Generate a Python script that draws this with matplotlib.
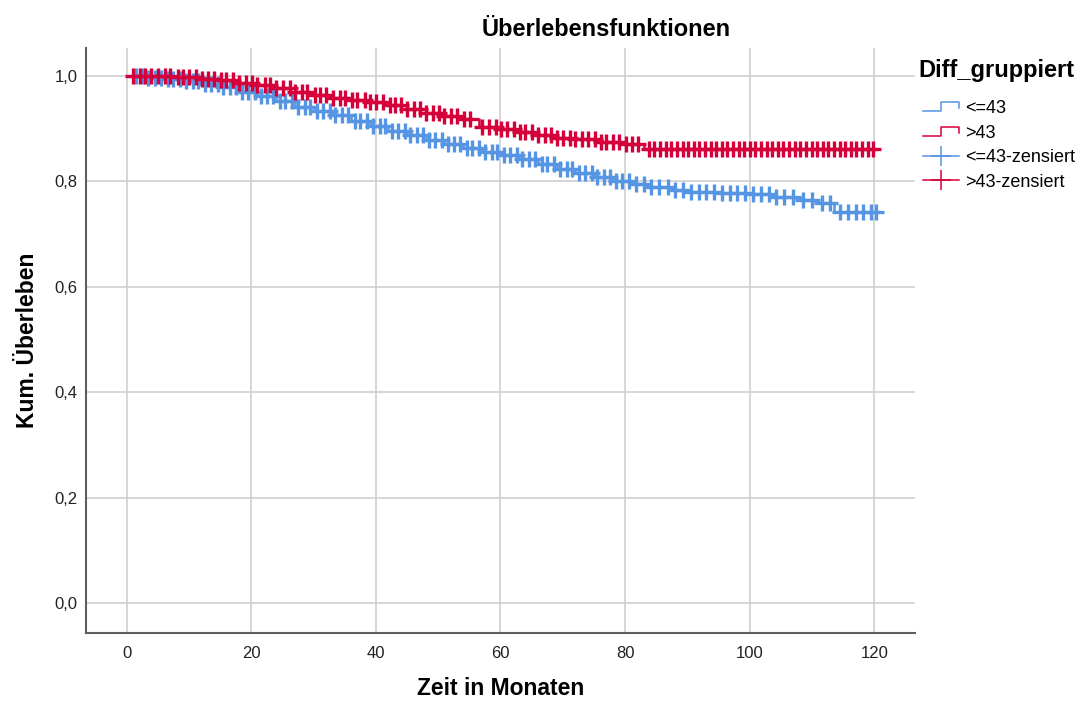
import numpy as np
import matplotlib
matplotlib.use("Agg")
import matplotlib.pyplot as plt
from matplotlib.lines import Line2D
from matplotlib.legend_handler import HandlerBase

plt.rcParams['font.family'] = ['Liberation Sans', 'DejaVu Sans']

# Kaplan-Meier Stufen (Zeit in Monaten, kum. Ueberleben)
zeit_le43 = [0, 3, 6, 9, 12, 15, 18, 21, 24, 27, 30, 33, 36, 39, 42, 45, 48, 51, 54,
             57, 60, 63, 66, 69, 72, 75, 78, 81, 84, 87, 90, 95, 100, 104, 108, 111, 113.5]
surv_le43 = [1.0, 0.997, 0.994, 0.990, 0.985, 0.979, 0.970, 0.961, 0.952, 0.942, 0.933,
             0.925, 0.915, 0.905, 0.896, 0.887, 0.878, 0.870, 0.863, 0.856, 0.850, 0.842,
             0.832, 0.823, 0.816, 0.808, 0.800, 0.795, 0.789, 0.783, 0.780, 0.778, 0.776,
             0.771, 0.765, 0.759, 0.742]

zeit_gt43 = [0, 8, 12, 15, 18, 21, 24, 27, 30, 33, 36, 39, 42, 45, 48, 51, 54, 56.5,
             60, 63, 66, 69, 72, 76, 80, 83]
surv_gt43 = [1.0, 0.998, 0.995, 0.992, 0.987, 0.982, 0.977, 0.970, 0.964, 0.959, 0.955,
             0.950, 0.944, 0.937, 0.930, 0.924, 0.919, 0.904, 0.899, 0.893, 0.888, 0.883,
             0.880, 0.875, 0.871, 0.862]

# zensierte Faelle
zens_le43 = [1.5, 2.6, 3.5, 4.6, 5.5, 6.6, 7.5, 8.6, 9.5, 10.6, 11.5, 12.6, 13.5, 14.6,
             15.5, 16.6, 17.5, 18.6, 19.5, 20.6, 21.5, 22.6, 23.5, 24.6, 25.5, 26.6, 27.5,
             28.6, 29.5, 30.6, 31.5, 32.6, 33.5, 34.6, 35.5, 36.6, 37.5, 38.6, 39.5, 40.6,
             41.5, 42.6, 43.5, 44.6, 45.5, 46.6, 47.5, 48.6, 49.5, 50.6, 51.5, 52.6, 53.5,
             54.6, 55.5, 56.6, 57.5, 58.6, 59.5, 60.6, 61.5, 62.6, 63.5, 64.6, 65.5, 66.6,
             67.5, 68.6, 69.5, 70.6, 71.5, 72.6, 73.5, 74.6, 75.5, 76.6, 77.5, 78.6, 79.5,
             80.6, 81.7, 83.0, 84.2, 85.5, 86.8, 88.0, 89.2, 90.5, 91.8, 93.0, 94.2, 95.5,
             96.8, 98.0, 99.2, 100.5, 101.8, 103.0, 104.2, 105.5, 107.0, 108.5, 110.0,
             111.5, 112.8, 114.5, 115.8, 117.0, 118.2, 119.5, 120.3]
zens_gt43 = [1.0, 2.1, 3.0, 3.9, 5.0, 6.1, 7.0, 8.2, 9.1, 10.0, 11.2, 12.1, 13.0, 14.1,
             15.2, 16.0, 17.1, 18.0, 19.2, 20.1, 21.0, 22.2, 23.1, 24.0, 25.1, 26.2, 27.0,
             28.1, 29.0, 30.2, 31.1, 32.0, 33.1, 34.2, 35.0, 36.1, 37.0, 38.2, 39.1, 40.0,
             41.1, 42.2, 43.0, 44.1, 45.0, 46.2, 47.1, 48.0, 49.1, 50.2, 51.0, 52.1, 53.0,
             54.2, 55.1, 57.0, 58.1, 59.2, 60.1, 61.0, 62.2, 63.1, 64.0, 65.1, 66.0, 67.2,
             68.1, 69.0, 70.1, 71.2, 72.0, 73.1, 74.0, 75.2, 76.1, 77.0, 78.1, 79.0, 80.2,
             81.1, 82.0, 83.8, 84.7, 85.6, 86.5, 87.4, 88.3, 89.2, 90.1, 91.0, 91.9, 92.8,
             93.7, 94.6, 95.5, 96.4, 97.3, 98.2, 99.1, 100.0, 100.9, 101.8, 102.7, 103.6,
             104.5, 105.4, 106.3, 107.2, 108.1, 109.0, 109.9, 110.8, 111.7, 112.6, 113.5,
             114.4, 115.3, 116.2, 117.1, 118.0, 118.9, 119.8]

labels = ['<=43', '>43', '<=43-zensiert', '>43-zensiert']
blau = '#5595E3'
rot = '#D5003B'
t_max = 120.3


def stufe(zeit, surv, t):
    # Ueberleben zum Zeitpunkt t (rechtsstetige Treppenfunktion)
    idx = np.searchsorted(zeit, t, side='right') - 1
    return np.asarray(surv)[idx]


class StufenHandler(HandlerBase):
    def create_artists(self, legend, orig_handle, xdescent, ydescent, width, height,
                       fontsize, trans):
        x0, y0 = -xdescent, -ydescent
        lo = y0 + 0.15 * height
        hi = y0 + 0.85 * height
        xs = [x0, x0 + 0.5 * width, x0 + 0.5 * width, x0 + width, x0 + width]
        ys = [lo, lo, hi, hi, lo + 0.25 * height]
        l = Line2D(xs, ys, color=orig_handle.get_color(), lw=1.1, transform=trans)
        return [l]


fig = plt.figure(figsize=(10.83, 7.02), dpi=100)
ax = fig.add_axes([86 / 1083, 1 - 633 / 702, (915 - 86) / 1083, (633 - 48) / 702])

for zeit, surv, zens, col in [(zeit_le43, surv_le43, zens_le43, blau),
                              (zeit_gt43, surv_gt43, zens_gt43, rot)]:
    xs = list(zeit) + [t_max]
    ys = list(surv) + [surv[-1]]
    ax.plot(xs, ys, drawstyle='steps-post', color=col, lw=1.8, zorder=3)
    zy = stufe(zeit, surv, np.array(zens))
    ax.plot(zens, zy, ls='none', marker='+', ms=11, mew=2.4, color=col, zorder=3)

ax.set_xlim(-6.5, 126.5)
ax.set_ylim(-0.057, 1.053)
ax.set_xticks([0, 20, 40, 60, 80, 100, 120])
yt = [0.0, 0.2, 0.4, 0.6, 0.8, 1.0]
ax.set_yticks(yt)
ax.set_yticklabels([f'{v:.1f}'.replace('.', ',') for v in yt])
ax.tick_params(length=0, labelsize=12, colors='#222222')
ax.tick_params(axis='x', pad=9)
ax.tick_params(axis='y', pad=6)
ax.grid(True, color='#CFCFCF', lw=1.2, zorder=0)
ax.set_axisbelow(True)
for s in ['top', 'right']:
    ax.spines[s].set_visible(False)
for s in ['left', 'bottom']:
    ax.spines[s].set_color('#5E5E5E')
    ax.spines[s].set_linewidth(1.5)

ax.set_xlabel('Zeit in Monaten', fontsize=16.5, fontweight='bold', labelpad=12)
ax.set_ylabel('Kum. Überleben', fontsize=16.5, fontweight='bold', labelpad=11)
fig.text(606 / 1083, 1 - 30 / 702, 'Überlebensfunktionen', ha='center', va='center',
         fontsize=17, fontweight='bold')

# Legende: Titel separat, darunter die vier Eintraege
fig.text(918 / 1083, 1 - 70 / 702, 'Diff_gruppiert', ha='left', va='center',
         fontsize=17, fontweight='bold')
handles = [Line2D([], [], color=blau), Line2D([], [], color=rot),
           Line2D([], [], color=blau, lw=1.1, marker='+', ms=14, mew=1.1),
           Line2D([], [], color=rot, lw=1.1, marker='+', ms=14, mew=1.1)]
leg = fig.legend(handles, labels, loc='upper left', bbox_to_anchor=(923 / 1083, 1 - 100 / 702),
                 frameon=False, borderpad=0, borderaxespad=0, fontsize=13,
                 handlelength=2.0, handletextpad=0.35, labelspacing=0.42, numpoints=1,
                 handler_map={handles[0]: StufenHandler(), handles[1]: StufenHandler()})

fig.savefig('out.png', dpi=100)
